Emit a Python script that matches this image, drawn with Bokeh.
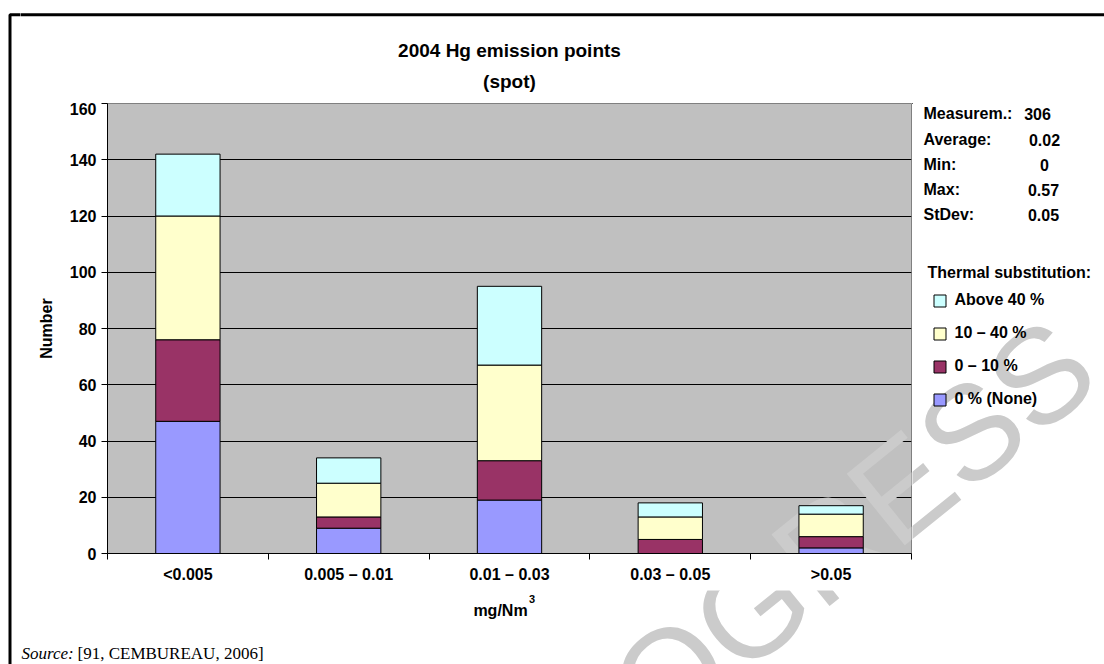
from bokeh.plotting import figure
from bokeh.models import (Legend, LegendItem, Label, FixedTicker, ColumnDataSource, Range1d)
from bokeh.layouts import column, row
from bokeh.embed import file_html
from bokeh.resources import INLINE

# ---------------- data ----------------
categories = ["<0.005", "0.005 \u2013 0.01", "0.01 \u2013 0.03", "0.03 \u2013 0.05", ">0.05"]
none_0 = [47, 9, 19, 0, 2]
pct_0_10 = [29, 4, 14, 5, 4]
pct_10_40 = [44, 12, 34, 8, 8]
above_40 = [22, 9, 28, 5, 3]
series_keys = ["none_0", "pct_0_10", "pct_10_40", "above_40"]
series_names = ["0 % (None)", "0 \u2013 10 %", "10 \u2013 40 %", "Above 40 %"]
series_colors = ["#9999FF", "#993366", "#FFFFCC", "#CCFFFF"]
y_ticks = [0, 20, 40, 60, 80, 100, 120, 140, 160]
stats_labels = ["Measurem.:", "Average:", "Min:", "Max:", "StDev:"]
stats_values = ["306", "0.02", "0", "0.57", "0.05"]
title_lines = ["2004 Hg emission points", "(spot)"]
x_unit = "mg/Nm"
x_unit_sup = "3"
y_title = "Number"
legend_title = "Thermal substitution:"
source_italic = "Source:"
source_text = "[91, CEMBUREAU, 2006]"
watermark = "PROGRESS"

FONT = "Liberation Sans"
SERIF = "Liberation Serif"
PW, PH = 1104, 664
L_W = 20             # left strip holding the outer frame line
TOP_H = 102          # title strip height
MID_H = 488          # chart row height
BOT_H = PH - TOP_H - MID_H
B_W = 892
C_W = PW - L_W - B_W
FL, FR, FT, FB = 107, 911, 103, 553     # plot frame in page px
WM = dict(x=1075, y=347, size="134px", angle=0.68, color="#CBCBCB")
BORDER_X, BORDER_Y = 9.5, 14.3


def blank(x0, x1, y0, y1, **kw):
    """helper figure whose data coordinates equal page pixels"""
    f = figure(width=int(x1 - x0), height=int(y1 - y0), output_backend="svg",
               toolbar_location=None, x_range=Range1d(x0, x1), y_range=Range1d(y1, y0),
               x_axis_location=None, y_axis_location=None, min_border=0, **kw)
    f.title.visible = False
    f.outline_line_color = None
    f.background_fill_color = "white"
    f.border_fill_color = "white"
    f.xgrid.visible = False
    f.ygrid.visible = False
    return f


def txt(f, text, x, y, size="16px", align="left", style="bold", font=FONT,
        color="black", baseline="middle", angle=0.0, level="annotation", units="data"):
    f.add_layout(Label(x=x, y=y, x_units=units, y_units=units, text=text,
                       text_font=font, text_font_size=size, text_font_style=style,
                       text_color=color, text_align=align, text_baseline=baseline,
                       angle=angle, level=level))


def add_watermark(f):
    txt(f, watermark, WM["x"], WM["y"], size=WM["size"], align="right", style="normal",
        color=WM["color"], angle=WM["angle"], level="underlay")


# ---------------- left strip: outer frame line ----------------
LS = blank(0, L_W, 0, PH)
LS.line([BORDER_X, BORDER_X, L_W + 5], [PH + 5, BORDER_Y, BORDER_Y],
        line_color="black", line_width=3)

# ---------------- title strip ----------------
T = blank(L_W, PW, 0, TOP_H)
T.line([L_W - 5, PW + 5], [BORDER_Y, BORDER_Y], line_color="black", line_width=3)
txt(T, title_lines[0], 509, 50, size="19px", align="center")
txt(T, title_lines[1], 509, 81, size="19px", align="center")

# ---------------- main chart ----------------
x_centers = [i + 0.5 for i in range(len(categories))]
src = ColumnDataSource(dict(x=x_centers, none_0=none_0, pct_0_10=pct_0_10,
                            pct_10_40=pct_10_40, above_40=above_40))

B = figure(width=B_W, height=MID_H, output_backend="svg", toolbar_location=None,
           x_range=Range1d(0, len(categories)), y_range=Range1d(0, 160),
           min_border_left=FL - L_W, min_border_right=L_W + B_W - FR,
           min_border_top=FT - TOP_H, min_border_bottom=TOP_H + MID_H - FB)
B.title.visible = False
B.background_fill_color = "#C0C0C0"
B.border_fill_color = "white"
B.outline_line_color = "#808080"
B.outline_line_width = 1

B.vbar_stack(series_keys, x="x", width=0.4, source=src,
             fill_color=series_colors, line_color="black", line_width=1)

B.xgrid.visible = False
B.ygrid.grid_line_color = "black"
B.ygrid.grid_line_width = 1
B.ygrid.ticker = FixedTicker(ticks=y_ticks)

ya = B.yaxis[0]
ya.ticker = FixedTicker(ticks=y_ticks)
ya.axis_line_color = "black"
ya.major_tick_line_color = "black"
ya.major_tick_in = 0
ya.major_tick_out = 6
ya.minor_tick_line_color = None
ya.major_label_text_font = FONT
ya.major_label_text_font_style = "bold"
ya.major_label_text_font_size = "16px"
ya.major_label_text_color = "black"
ya.major_label_standoff = 5
ya.axis_label = y_title
ya.axis_label_text_font = FONT
ya.axis_label_text_font_style = "bold"
ya.axis_label_text_font_size = "16px"
ya.axis_label_text_color = "black"
ya.axis_label_standoff = 12

xa = B.xaxis[0]
xa.ticker = FixedTicker(ticks=x_centers, minor_ticks=list(range(len(categories) + 1)))
xa.major_label_overrides = {c: lab for c, lab in zip(x_centers, categories)}
xa.axis_line_color = "black"
xa.major_tick_in = 0
xa.major_tick_out = 0
xa.minor_tick_in = 0
xa.minor_tick_out = 6
xa.minor_tick_line_color = "black"
xa.major_label_text_font = FONT
xa.major_label_text_font_style = "bold"
xa.major_label_text_font_size = "16px"
xa.major_label_text_color = "black"
xa.major_label_standoff = 6

# watermark part inside the plot frame (frame-relative screen units)
txt(B, watermark, WM["x"] - FL, FB - WM["y"], size=WM["size"], align="right",
    style="normal", color=WM["color"], angle=WM["angle"], level="underlay", units="screen")

# ---------------- right column: stats + legend (frame aligned with chart) ----------------
C = figure(width=C_W, height=MID_H, output_backend="svg", toolbar_location=None,
           x_range=Range1d(L_W + B_W, PW), y_range=Range1d(FB, FT),
           x_axis_location=None, y_axis_location=None,
           min_border_left=0, min_border_right=0,
           min_border_top=FT - TOP_H, min_border_bottom=TOP_H + MID_H - FB)
C.title.visible = False
C.outline_line_color = None
C.background_fill_color = "white"
C.border_fill_color = "white"
C.xgrid.visible = False
C.ygrid.visible = False
add_watermark(C)

stat_rows = [113, 139, 164, 189, 214]
stat_vx = [1037, 1044, 1044, 1043, 1043]
for t, v, yy, vx in zip(stats_labels, stats_values, stat_rows, stat_vx):
    txt(C, t, 923, yy)
    txt(C, v, vx, yy, align="center")
txt(C, legend_title, 927, 272)

# legend swatch renderers (zero-size, outside the visible range)
swatches = [C.vbar(x=[0], top=[0], bottom=[0], width=0, fill_color=col,
                   line_color="black", line_width=1) for col in series_colors]
items = [LegendItem(label=n, renderers=[r]) for n, r in zip(series_names, swatches)][::-1]
legend = Legend(items=items, location=(931.5 - (L_W + B_W), FB - 409),
                orientation="vertical",
                glyph_width=15, glyph_height=15, label_height=20, spacing=13,
                label_standoff=8, padding=0, margin=0,
                label_text_font=FONT, label_text_font_style="bold",
                label_text_font_size="16px", label_text_color="black",
                border_line_alpha=0, background_fill_alpha=0)
C.add_layout(legend, "center")

# ---------------- bottom strip ----------------
S = blank(L_W, PW, TOP_H + MID_H, PH)
add_watermark(S)
txt(S, x_unit, 500, 610, align="center")
txt(S, x_unit_sup, 528.5, 598, size="11px")
txt(S, source_italic, 21, 653, size="17px", style="italic", font=SERIF, baseline="alphabetic")
txt(S, source_text, 77, 653, size="17px", style="normal", font=SERIF, baseline="alphabetic")

layout = row(LS, column(T, row(B, C), S))
open("out.html", "w").write(file_html(layout, INLINE))
